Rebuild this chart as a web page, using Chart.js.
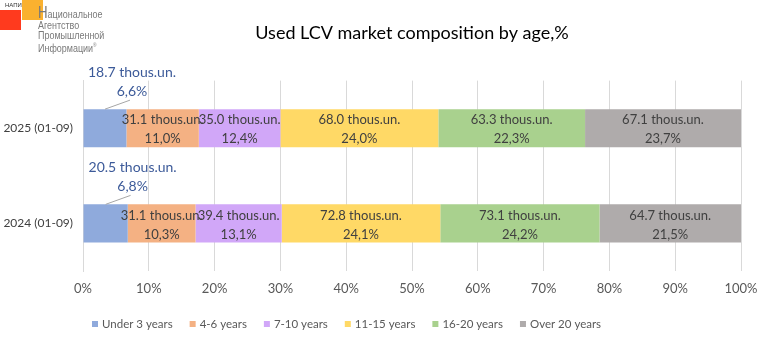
<!DOCTYPE html>
<html><head><meta charset="utf-8">
<script src="https://cdn.jsdelivr.net/npm/chart.js@4"></script>
<style>
html,body{margin:0;padding:0;background:#fff;}
#wrap{position:relative;width:761px;height:340px;}
canvas{position:absolute;left:0;top:0;}
.logo{position:absolute;font-family:"Liberation Sans","DejaVu Sans",sans-serif;color:#7a7a7a;}
.lt{transform:scaleX(0.78);transform-origin:0 0;white-space:nowrap;}
</style></head>
<body>
<div id="wrap">
<canvas id="c" width="761" height="340"></canvas>
<div class="logo" style="left:0;top:10px;width:21px;height:20px;background:#FF3A1E;"></div>
<div class="logo" style="left:22px;top:0;width:21px;height:20px;background:#FAB12F;"></div>
<div class="logo" style="left:5px;top:2px;font-size:6px;color:#333;">НАПИ</div>
<div class="logo lt" style="left:38px;top:5px;font-size:11.5px;line-height:10px;">
<div><span style="font-size:17px;line-height:15px;">Н</span>ациональное</div>
<div>Агентство</div><div>Промышленной</div><div>Информации<sup style="font-size:6px">®</sup></div>
</div>
</div>
<script>
const categories = ["2025 (01-09)", "2024 (01-09)"];
const seriesNames = ["Under 3 years", "4-6 years", "7-10 years", "11-15 years", "16-20 years", "Over 20 years"];
const under3 = [6.6, 6.8];
const y4to6 = [11.0, 10.3];
const y7to10 = [12.4, 13.1];
const y11to15 = [24.0, 24.1];
const y16to20 = [22.3, 24.2];
const over20 = [23.7, 21.5];
const under3Units = [18.7, 20.5];
const y4to6Units = [31.1, 31.1];
const y7to10Units = [35.0, 39.4];
const y11to15Units = [68.0, 72.8];
const y16to20Units = [63.3, 73.1];
const over20Units = [67.1, 64.7];
const xTicks = [0,10,20,30,40,50,60,70,80,90,100];

const shares = [under3, y4to6, y7to10, y11to15, y16to20, over20];
const units = [under3Units, y4to6Units, y7to10Units, y11to15Units, y16to20Units, over20Units];
const colors = ["#8FAADC", "#F4B183", "#D1A7F8", "#FFD966", "#A9D18E", "#AFABAB"];
const FONT = "Lato, 'Open Sans', sans-serif";

const fmtPct = v => v.toFixed(1).replace('.', ',') + '%';

const labelPlugin = {
  id: 'segLabels',
  afterDatasetsDraw(chart) {
    const ctx = chart.ctx;
    ctx.save();
    ctx.textAlign = 'center';
    ctx.textBaseline = 'middle';
    chart.data.datasets.forEach((ds, i) => {
      const meta = chart.getDatasetMeta(i);
      meta.data.forEach((el, j) => {
        const cx = (el.x + el.base) / 2;
        const top = el.y - el.height / 2;
        const l1 = units[i][j].toFixed(1) + ' thous.un.';
        const l2 = fmtPct(shares[i][j]);
        if (i === 0) {
          const lx = cx + 27;
          ctx.fillStyle = '#3C5A99';
          ctx.font = '14px ' + FONT;
          ctx.fillText(l1, lx, top - 37);
          ctx.fillText(l2, lx, top - 18);
          ctx.strokeStyle = '#A6A6A6';
          ctx.lineWidth = 1;
          ctx.beginPath();
          ctx.moveTo(cx, top);
          ctx.lineTo(lx - 2, top - 9);
          ctx.stroke();
        } else {
          ctx.fillStyle = '#404040';
          ctx.font = '13px ' + FONT;
          ctx.fillText(l1, cx, el.y - 8);
          ctx.fillText(l2, cx, el.y + 11);
        }
      });
    });
    ctx.restore();
  }
};

const legendPlugin = {
  id: 'customLegend',
  afterDraw(chart) {
    const ctx = chart.ctx;
    ctx.save();
    ctx.font = '11.5px ' + FONT;
    ctx.textBaseline = 'middle';
    ctx.textAlign = 'left';
    let x = 92;
    const y = 324;
    chart.data.datasets.forEach(ds => {
      ctx.fillStyle = ds.backgroundColor;
      ctx.fillRect(x, y - 3, 6, 6);
      ctx.fillStyle = '#595959';
      ctx.fillText(ds.label, x + 10, y);
      x += 10 + ctx.measureText(ds.label).width + 17;
    });
    ctx.restore();
  }
};

new Chart(document.getElementById('c'), {
  type: 'bar',
  data: {
    labels: categories,
    datasets: seriesNames.map((n, i) => ({
      label: n, data: shares[i], backgroundColor: colors[i],
      barPercentage: 0.8, categoryPercentage: 0.5
    }))
  },
  options: {
    indexAxis: 'y',
    responsive: false,
    animation: false,
    layout: { padding: { left: 0, right: 20, top: 0, bottom: 43 } },
    plugins: {
      title: { display: true, fullSize: false, text: 'Used LCV market composition by age,%', color: '#000',
        font: { family: FONT, size: 18, weight: 'normal' }, padding: { top: 22, bottom: 37 } },
      legend: { display: false },
      tooltip: { enabled: false }
    },
    scales: {
      x: { stacked: true, min: 0, max: 100,
        afterBuildTicks: s => { s.ticks = xTicks.map(v => ({ value: v })); },
        ticks: { callback: v => v + '%', color: '#595959', font: { family: FONT, size: 13 }, padding: 10 },
        grid: { color: '#D9D9D9', drawTicks: false }, border: { display: false },
        afterFit: s => { s.height = 26; s.paddingRight = 0; s.paddingLeft = 0; } },
      y: { stacked: true,
        ticks: { color: '#404040', font: { family: FONT, size: 12 }, padding: 2 },
        grid: { display: false }, border: { color: '#D9D9D9' },
        afterFit: s => { s.width = 83; } }
    }
  },
  plugins: [labelPlugin, legendPlugin]
});
</script>
</body></html>
